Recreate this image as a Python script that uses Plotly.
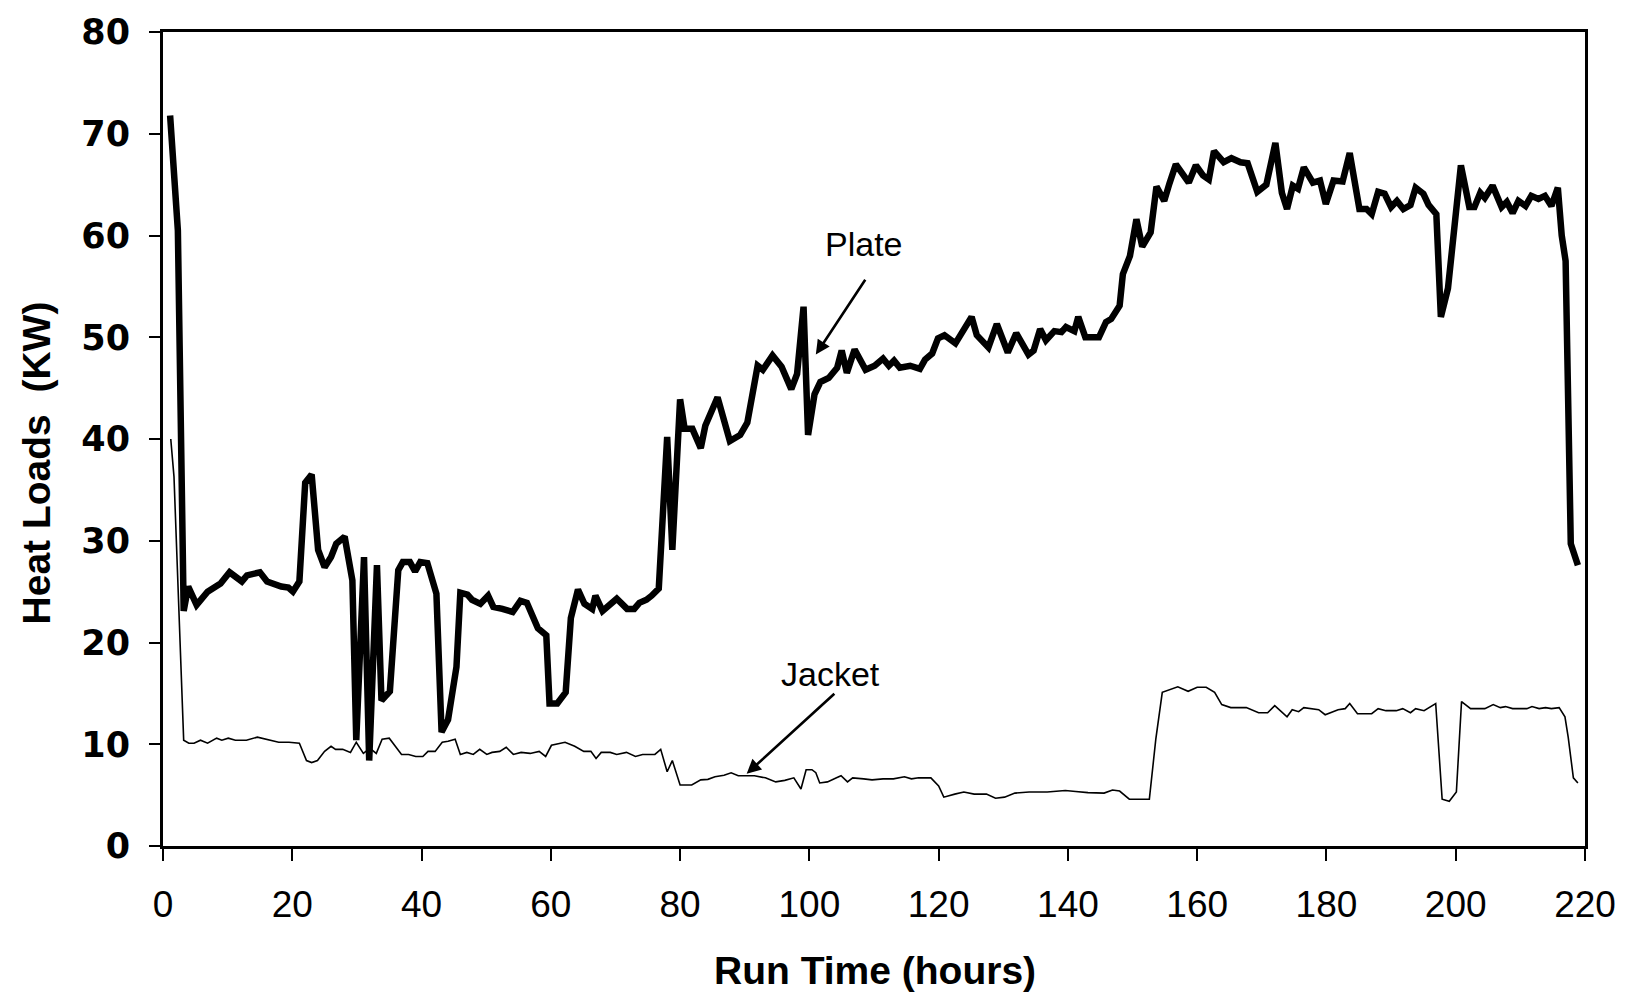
import plotly.graph_objects as go

# Run time (hours) and heat load (kW) for the plate heat exchanger
plate_hours = [1.1, 2.3, 3.2, 3.9, 5.2, 6.9, 8.9, 10.3, 12.2, 13.0, 15.0, 16.1, 18.3, 19.4, 20.1,
               21.1, 22.0, 23.0, 24.0, 25.0, 26.0, 26.8, 28.1, 29.3, 29.9, 31.1, 31.9, 33.1, 33.8,
               35.1, 36.4, 37.1, 38.2, 39.0, 39.8, 40.9, 42.3, 43.1, 44.1, 45.4, 46.0, 47.1, 47.8,
               49.1, 50.3, 51.1, 52.5, 54.1, 55.3, 56.3, 58.0, 59.3, 59.8, 61.0, 62.3, 63.1, 64.2,
               65.2, 66.4, 66.9, 68.0, 69.1, 70.2, 71.8, 72.9, 73.7, 74.8, 75.6, 76.7, 78.0, 78.8,
               80.0, 80.7, 81.9, 83.2, 83.9, 85.8, 87.7, 89.3, 90.4, 92.0, 92.8, 94.3, 95.7, 97.2,
               98.1, 99.1, 99.8, 100.8, 101.7, 103.0, 104.3, 105.0, 105.8, 107.0, 108.7, 110.1,
               111.4, 112.3, 113.1, 114.0, 115.6, 117.1, 117.9, 119.0, 119.9, 120.9, 122.6, 124.2,
               125.1, 125.9, 127.7, 129.0, 130.7, 132.0, 133.9, 134.7, 135.7, 136.6, 137.9, 139.0,
               139.7, 141.0, 141.6, 142.7, 144.8, 145.9, 146.7, 148.0, 148.5, 149.6, 150.6, 151.5,
               152.8, 153.7, 154.9, 155.7, 156.7, 158.7, 159.8, 160.9, 161.8, 162.6, 164.1, 165.3,
               166.7, 167.8, 169.3, 170.7, 172.1, 173.1, 173.9, 174.8, 175.6, 176.5, 177.9, 179.0,
               179.9, 181.1, 182.5, 183.6, 185.1, 186.2, 187.0, 188.0, 189.0, 190.0, 190.9, 191.9,
               193.0, 193.8, 195.0, 195.8, 197.0, 197.7, 198.8, 200.8, 202.1, 202.9, 203.8, 204.5,
               205.7, 207.1, 207.9, 208.8, 209.7, 210.8, 211.7, 212.8, 213.8, 214.8, 215.8, 216.4,
               217.0, 217.8, 218.9]
plate_kw = [71.8, 60.5, 23.1, 25.5, 23.7, 25.0, 25.8, 26.9, 26.0, 26.6, 26.9, 26.0, 25.5, 25.4, 25.0,
            26.0, 35.7, 36.5, 29.1, 27.4, 28.4, 29.7, 30.4, 26.1, 10.4, 28.4, 8.4, 27.6, 14.3,
            15.2, 27.1, 27.9, 27.9, 27.0, 27.9, 27.8, 24.8, 11.2, 12.4, 17.6, 24.9, 24.7, 24.2,
            23.8, 24.6, 23.5, 23.3, 23.0, 24.1, 23.9, 21.4, 20.7, 14.0, 14.0, 15.1, 22.4, 25.2,
            23.8, 23.3, 24.6, 23.1, 23.8, 24.3, 23.3, 23.3, 23.9, 24.2, 24.6, 25.3, 40.2, 29.1,
            43.9, 41.0, 41.0, 39.1, 41.3, 44.1, 39.8, 40.4, 41.6, 47.2, 46.8, 48.2, 47.1, 44.9,
            46.4, 53.0, 40.4, 44.4, 45.6, 46.0, 47.0, 48.7, 46.5, 48.8, 46.8, 47.2,
            47.9, 47.2, 47.7, 47.0, 47.2, 46.9, 47.8, 48.4, 49.9, 50.2, 49.4, 51.0,
            52.0, 50.2, 49.0, 51.3, 48.5, 50.4, 48.3, 48.7, 50.8, 49.7, 50.6, 50.5,
            51.0, 50.6, 52.0, 50.0, 50.0, 51.5, 51.8, 53.1, 56.2, 58.0, 61.6, 58.9,
            60.3, 64.8, 63.4, 65.1, 67.0, 65.2, 66.9, 65.9, 65.5, 68.3, 67.2, 67.6,
            67.2, 67.1, 64.3, 65.0, 69.1, 64.2, 62.6, 64.9, 64.6, 66.7, 65.2, 65.4,
            63.1, 65.4, 65.3, 68.1, 62.6, 62.6, 62.1, 64.3, 64.1, 62.8, 63.4, 62.6,
            63.0, 64.7, 64.1, 63.0, 62.1, 52.0, 54.8, 66.9, 62.8, 62.8, 64.2, 63.7,
            64.9, 62.8, 63.3, 62.2, 63.4, 62.9, 63.9, 63.6, 63.9, 62.9, 64.7, 60.0,
            57.5, 29.7, 27.6]

# Run time (hours) and heat load (kW) for the jacket
jacket_hours = [1.2, 1.7, 3.2, 4.0, 4.8, 5.8, 6.9, 8.3, 9.1, 10.1, 11.2, 12.9, 14.6, 16.0, 17.9,
                19.5, 21.1, 22.2, 23.0, 23.9, 25.0, 26.0, 26.7, 27.8, 29.0, 29.9, 31.0, 32.0,
                33.0, 33.9, 35.0, 36.9, 38.0, 39.1, 40.2, 41.0, 42.1, 43.2, 44.1, 45.2, 46.0,
                47.0, 48.0, 49.0, 50.1, 50.9, 52.1, 53.1, 54.2, 55.4, 56.8, 58.2, 59.2, 60.1,
                61.0, 62.2, 63.7, 65.1, 66.2, 67.0, 67.8, 69.2, 70.2, 71.7, 73.1, 74.2, 76.1,
                77.0, 78.0, 78.8, 80.0, 81.8, 83.2, 84.3, 85.4, 86.8, 87.9, 89.0, 90.3, 91.5,
                93.2, 94.8, 96.2, 97.6, 98.7, 99.5, 100.4, 101.0, 101.6, 102.8, 104.2, 104.9,
                105.9, 106.7, 108.4, 109.7, 111.4, 113.0, 114.7, 115.8, 116.9, 118.8, 120.0,
                120.8, 122.5, 123.9, 125.5, 127.4, 128.8, 130.2, 131.8, 134.0, 136.8, 139.6,
                141.2, 143.1, 145.6, 146.9, 148.0, 149.5, 152.6, 153.6, 154.6, 157.0, 158.6,
                160.0, 161.4, 162.7, 163.8, 165.2, 167.6, 169.5, 170.9, 172.0, 173.9, 174.7,
                175.7, 176.5, 178.8, 179.8, 181.8, 182.9, 183.6, 184.8, 187.0, 188.0, 189.2,
                190.8, 191.8, 193.0, 193.8, 195.1, 196.9, 197.9, 199.0, 200.1, 200.9, 202.3,
                204.5, 205.8, 206.9, 207.7, 208.8, 211.0, 211.8, 212.9, 213.9, 214.8, 216.0,
                216.9, 217.4, 218.2, 218.9]
jacket_kw = [40.0, 36.3, 10.4, 10.1, 10.1, 10.4, 10.1, 10.6, 10.4, 10.6, 10.4, 10.4, 10.7, 10.5, 10.2,
             10.2, 10.1, 8.4, 8.2, 8.4, 9.3, 9.8, 9.5, 9.5, 9.2, 10.2, 9.1, 9.6,
             9.1, 10.5, 10.6, 9.0, 9.0, 8.8, 8.8, 9.3, 9.3, 10.2, 10.3, 10.5, 9.0,
             9.2, 9.0, 9.5, 9.0, 9.2, 9.3, 9.7, 9.0, 9.2, 9.1, 9.3, 8.8, 9.9,
             10.0, 10.2, 9.8, 9.3, 9.3, 8.6, 9.2, 9.2, 9.0, 9.2, 8.8, 9.0, 9.0,
             9.5, 7.3, 8.4, 6.0, 6.0, 6.5, 6.55, 6.8, 6.95, 7.2, 6.9, 6.9, 6.9,
             6.7, 6.3, 6.45, 6.7, 5.6, 7.5, 7.5, 7.2, 6.2, 6.3, 6.7, 6.9,
             6.3, 6.7, 6.6, 6.5, 6.6, 6.6, 6.8, 6.6, 6.7, 6.7, 5.9,
             4.8, 5.1, 5.3, 5.1, 5.1, 4.7, 4.8, 5.2, 5.3, 5.3, 5.45,
             5.35, 5.25, 5.2, 5.5, 5.4, 4.6, 4.6, 10.5, 15.1, 15.65, 15.2,
             15.6, 15.6, 15.1, 13.9, 13.6, 13.6, 13.1, 13.1, 13.8, 12.7, 13.4,
             13.2, 13.6, 13.4, 12.9, 13.4, 13.5, 14.0, 13.0, 13.0, 13.5, 13.3,
             13.3, 13.5, 13.1, 13.5, 13.3, 14.0, 4.6, 4.4, 5.3, 14.2, 13.5,
             13.5, 13.9, 13.6, 13.7, 13.5, 13.5, 13.7, 13.5, 13.6, 13.5, 13.6,
             12.7, 10.7, 6.7, 6.2]

x_ticks = [0, 20, 40, 60, 80, 100, 120, 140, 160, 180, 200, 220]
y_ticks = [0, 10, 20, 30, 40, 50, 60, 70, 80]

fig = go.Figure()
fig.add_trace(go.Scatter(x=plate_hours, y=plate_kw, mode="lines", name="Plate",
                         line=dict(color="black", width=6.5)))
fig.add_trace(go.Scatter(x=jacket_hours, y=jacket_kw, mode="lines", name="Jacket",
                         line=dict(color="black", width=1.6)))

label_font = dict(family="Liberation Sans, Arial, sans-serif", size=34, color="black")

# Series labels with pointer arrows
fig.add_annotation(x=108.5, y=59.2, text="Plate", showarrow=False, font=label_font)
fig.add_annotation(x=101.0, y=48.3, ax=108.8, ay=55.8, axref="x", ayref="y", text="",
                   showarrow=True, arrowhead=2, arrowsize=1.1, arrowwidth=2.6, arrowcolor="black")
fig.add_annotation(x=103.2, y=16.9, text="Jacket", showarrow=False, font=label_font)
fig.add_annotation(x=90.3, y=7.1, ax=104.1, ay=15.1, axref="x", ayref="y", text="",
                   showarrow=True, arrowhead=2, arrowsize=1.1, arrowwidth=2.6, arrowcolor="black")

# Axis titles
title_font = dict(family="Liberation Sans, Arial, sans-serif", size=39, color="black", weight="bold")
fig.add_annotation(xref="paper", yref="paper", x=0.5007, y=-0.153, text="Run Time (hours)",
                   xanchor="center", yanchor="middle", showarrow=False, font=title_font)
fig.add_annotation(xref="paper", yref="paper", x=-0.0893, y=0.47, text="Heat Loads  (KW)",
                   xanchor="center", yanchor="middle", textangle=-90, showarrow=False,
                   font=title_font)

fig.update_layout(
    width=1633, height=994,
    margin=dict(l=163, r=48, t=22, b=148),
    paper_bgcolor="white", plot_bgcolor="white",
    showlegend=False,
)
fig.update_xaxes(
    range=[0, 220], tickvals=x_ticks, ticktext=[str(v) for v in x_ticks],
    showgrid=False, zeroline=False,
    showline=True, linecolor="black", linewidth=3, mirror=True,
    ticks="outside", ticklen=12, tickwidth=2, tickcolor="black",
    ticklabelstandoff=12,
    tickfont=dict(family="Liberation Sans, Arial, sans-serif", size=37, color="black"),
)
fig.update_yaxes(
    range=[0, 80], tickvals=y_ticks, ticktext=[str(v) for v in y_ticks],
    showgrid=False, zeroline=False,
    showline=True, linecolor="black", linewidth=3, mirror=True,
    ticks="outside", ticklen=11, tickwidth=1.5, tickcolor="black",
    ticklabelstandoff=12,
    tickfont=dict(family="DejaVu Sans, sans-serif", size=35, color="black", weight="bold"),
)

fig.write_html("out.html")
